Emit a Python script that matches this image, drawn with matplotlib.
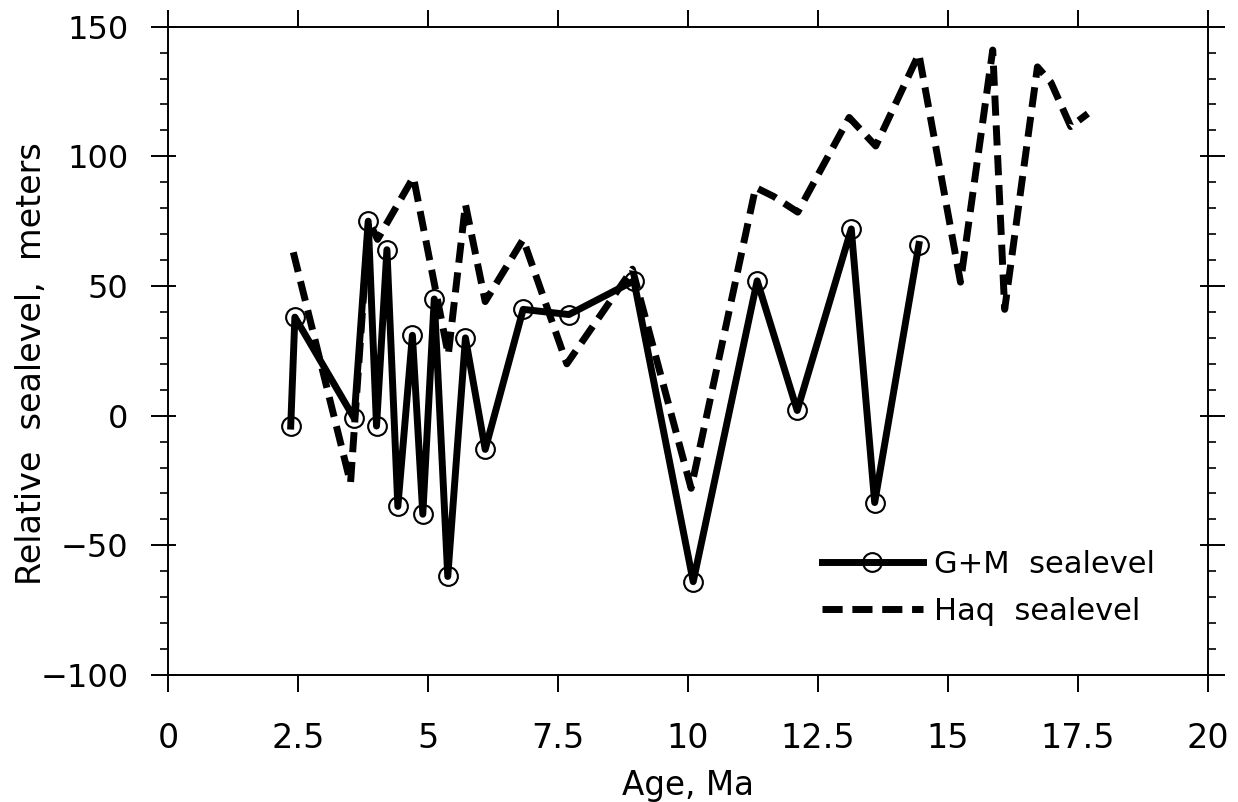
import matplotlib
matplotlib.use("Agg")
import matplotlib.pyplot as plt
from matplotlib.ticker import MultipleLocator, FixedLocator

# G+M sealevel estimates (age in Ma, relative sealevel in m)
gm_age = [2.36, 2.44, 3.58, 3.85, 4.01, 4.21, 4.42, 4.70, 4.90, 5.12, 5.38,
          5.72, 6.10, 6.83, 7.71, 8.96, 10.10, 11.33, 12.10, 13.14, 13.59, 14.44]
gm_level = [-4, 38, -1, 75, -4, 64, -35, 31, -38, 45, -62,
            30, -13, 41, 39, 52, -64, 52, 2, 72, -33.5, 66]

# Haq sealevel curve
haq_age = [2.41, 3.51, 3.86, 4.03, 4.72, 5.39, 5.72, 6.10, 6.83, 7.67, 8.93,
           10.06, 11.30, 11.65, 12.11, 13.10, 13.61, 14.44, 15.24, 15.86, 16.09,
           16.72, 16.98, 17.36, 17.69]
haq_level = [63, -26, 75, 68, 92, 23.5, 81.5, 44, 68, 20, 56.5,
             -28, 88, 84.5, 78.5, 115, 104, 139.5, 51.5, 141, 41,
             134.5, 128.5, 111.5, 116.5]

x_ticks = [0, 2.5, 5, 7.5, 10, 12.5, 15, 17.5, 20]
x_tick_labels = ["0", "2.5", "5", "7.5", "10", "12.5", "15", "17.5", "20"]
y_ticks = [-100, -50, 0, 50, 100, 150]

plt.rcParams["font.family"] = ["DejaVu Sans"]

DPI = 100
fig = plt.figure(figsize=(12.38, 8.02), dpi=DPI)
ax = fig.add_axes([168 / 1238, 127 / 802, 1040 / 1238, 648.3 / 802])

ax.plot(gm_age, gm_level, color="black", lw=5, marker="o", ms=13.5,
        mfc="none", mec="black", mew=1.5, solid_joinstyle="round",
        label="G+M  sealevel", zorder=3)
ax.plot(haq_age, haq_level, color="black", lw=5, linestyle=(0, (2.9, 1.4)),
        dash_capstyle="butt", label="Haq  sealevel", zorder=2)

ax.set_xlim(0, 20)
ax.set_ylim(-100, 150)
ax.xaxis.set_major_locator(FixedLocator(x_ticks))
ax.set_xticklabels(x_tick_labels)
ax.yaxis.set_major_locator(FixedLocator(y_ticks))
ax.yaxis.set_minor_locator(MultipleLocator(10))

for side in ax.spines.values():
    side.set_linewidth(1.4)

ax.tick_params(axis="x", which="major", direction="out", length=12.5, width=1.4,
               top=True, bottom=True, labelsize=24, pad=21)
ax.tick_params(axis="y", which="major", direction="out", length=12.5, width=1.4,
               left=True, right=True, labelsize=23, pad=16)
ax.tick_params(axis="y", which="minor", direction="out", length=6, width=1.2,
               left=True, right=True)

# inner halves of the major y ticks (they cross the spines)
inner = 7 / 1040
for yv in y_ticks:
    ax.plot([0, inner], [yv, yv], color="black", lw=1.4,
            transform=ax.get_yaxis_transform(), clip_on=False, zorder=4)
    ax.plot([1 - inner, 1], [yv, yv], color="black", lw=1.4,
            transform=ax.get_yaxis_transform(), clip_on=False, zorder=4)

ax.set_xlabel("Age, Ma", fontsize=23.5)
ax.set_ylabel("Relative  sealevel,  meters", fontsize=24)
ax.xaxis.set_label_coords(0.5, -0.145)
ax.yaxis.set_label_coords(-0.115, 0.48)

leg = ax.legend(loc="center left", bbox_to_anchor=(822 / 1238, 1 - 588 / 802),
                bbox_transform=fig.transFigure, frameon=False, fontsize=22,
                handlelength=3.3, handletextpad=0.36, labelspacing=0.58,
                borderpad=0, borderaxespad=0)

fig.savefig("out.png", dpi=DPI, facecolor="white")
